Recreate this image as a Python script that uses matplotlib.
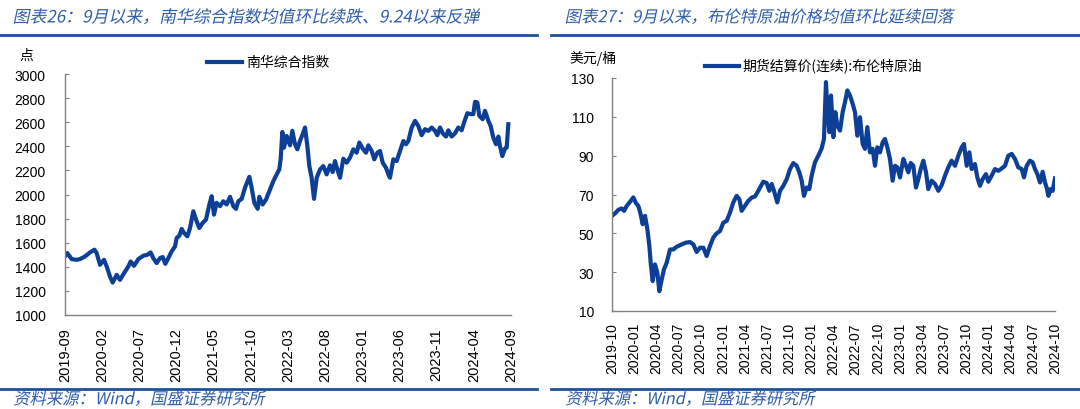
import matplotlib
matplotlib.use("Agg")
import numpy as np
from matplotlib import pyplot as plt
from matplotlib.textpath import TextPath
from matplotlib.patches import PathPatch
from matplotlib.font_manager import FontProperties
from matplotlib.transforms import Affine2D
import matplotlib.lines as mlines

plt.rcParams['font.family'] = ['Liberation Sans', 'Noto Sans CJK SC', 'DejaVu Sans']

# ---- data: 南华综合指数 (months since 2019-09) ----
nh_month = [0.00, 0.31, 0.90, 1.57, 2.02, 2.69, 3.36, 3.95, 4.26, 4.71, 5.25, 5.61, 6.05, 6.41,
            6.95, 7.40, 7.94, 8.52, 8.83, 9.28, 9.87, 10.54, 11.08, 11.52, 11.88, 12.33, 12.78,
            13.14, 13.50, 13.90, 14.35, 14.80, 15.02, 15.38, 15.70, 16.01, 16.46, 16.82, 17.26,
            17.71, 18.07, 18.52, 18.97, 19.42, 19.73, 20.04, 20.40, 20.85, 21.30, 21.75, 22.20,
            22.65, 23.00, 23.32, 23.77, 24.21, 24.80, 25.11, 25.47, 25.92, 26.14, 26.59, 27.04,
            27.49, 28.03, 28.48, 28.83, 29.01, 29.24, 29.46, 29.82, 30.27, 30.58, 30.94, 31.26,
            31.61, 31.97, 32.29, 32.60, 32.87, 33.18, 33.50, 33.86, 34.31, 34.75, 35.20, 35.65,
            36.01, 36.32, 36.64, 37.00, 37.44, 37.89, 38.34, 38.79, 39.24, 39.60, 40.05, 40.49,
            40.81, 41.26, 41.61, 42.02, 42.38, 42.74, 43.18, 43.50, 43.72, 44.17, 44.62, 45.07,
            45.52, 45.88, 46.19, 46.64, 47.09, 47.53, 47.98, 48.43, 48.88, 49.33, 49.78, 50.09,
            50.45, 50.81, 51.26, 51.57, 52.02, 52.47, 52.91, 53.36, 53.68, 54.13, 54.57, 54.93,
            55.16, 55.47, 55.74, 56.19, 56.50, 56.95, 57.26, 57.62, 57.98, 58.30, 58.52, 58.83,
            59.19, 59.42, 59.64]
nh_value = [1486, 1514, 1464, 1458, 1464, 1486, 1519, 1542, 1514, 1417, 1458, 1403, 1319, 1269,
            1333, 1292, 1347, 1403, 1444, 1408, 1464, 1492, 1500, 1519, 1472, 1431, 1472,
            1481, 1425, 1472, 1528, 1569, 1639, 1658, 1714, 1681, 1653, 1722, 1861,
            1778, 1722, 1764, 1792, 1917, 1986, 1833, 1931, 1903, 1944, 1917, 1981,
            1903, 1881, 1944, 1964, 2056, 2147, 2056, 1931, 1881, 1981, 1917, 1958,
            2028, 2111, 2167, 2208, 2292, 2519, 2389, 2486, 2408, 2528, 2417, 2375,
            2444, 2500, 2556, 2403, 2236, 2139, 1964, 2139, 2208, 2236, 2167, 2242,
            2186, 2278, 2208, 2139, 2297, 2264, 2306, 2375, 2347, 2431, 2381, 2347,
            2408, 2361, 2292, 2347, 2361, 2264, 2222, 2167, 2139, 2292, 2278, 2361,
            2444, 2417, 2444, 2556, 2611, 2569, 2492, 2542, 2528, 2556, 2528, 2492,
            2556, 2508, 2481, 2533, 2481, 2508, 2556, 2533, 2597, 2675, 2667, 2667,
            2769, 2764, 2653, 2625, 2694, 2611, 2569, 2472, 2417, 2481, 2403, 2319,
            2381, 2389, 2583]
nh_ticks = ['2019-09', '2020-02', '2020-07', '2020-12', '2021-05', '2021-10', '2022-03',
            '2022-08', '2023-01', '2023-06', '2023-11', '2024-04', '2024-09']

# ---- data: 布伦特原油期货结算价 (months since 2019-10) ----
br_month = [0.00, 0.41, 0.86, 1.31, 1.63, 1.99, 2.44, 2.89, 3.25, 3.57, 3.88, 4.15, 4.47, 4.79,
            5.06, 5.24, 5.51, 5.82, 6.14, 6.41, 6.73, 7.04, 7.40, 7.86, 8.31, 8.76, 9.44,
            10.02, 10.56, 11.02, 11.47, 11.92, 12.37, 12.82, 13.27, 13.72, 14.18, 14.63, 15.08,
            15.53, 15.98, 16.43, 16.88, 17.25, 17.56, 18.01, 18.46, 18.92, 19.37, 19.68, 20.05,
            20.50, 20.95, 21.31, 21.63, 21.94, 22.39, 22.75, 23.21, 23.66, 24.11, 24.56, 25.01,
            25.37, 25.69, 26.00, 26.37, 26.73, 27.04, 27.49, 27.95, 28.40, 28.71, 28.98, 29.16,
            29.44, 29.66, 29.98, 30.25, 30.52, 30.88, 31.24, 31.56, 31.87, 32.23, 32.60, 32.91,
            33.23, 33.59, 33.95, 34.27, 34.58, 34.94, 35.30, 35.62, 35.94, 36.30, 36.66, 36.97,
            37.29, 37.65, 38.01, 38.33, 38.65, 39.01, 39.46, 39.82, 40.13, 40.45, 40.81, 41.17,
            41.49, 41.81, 42.17, 42.53, 42.84, 43.30, 43.75, 44.20, 44.65, 45.10, 45.55, 46.00,
            46.46, 46.91, 47.36, 47.67, 48.04, 48.40, 48.71, 49.16, 49.48, 49.84, 50.20, 50.65,
            50.97, 51.42, 51.87, 52.32, 52.78, 53.23, 53.68, 54.13, 54.58, 55.03, 55.49, 55.80,
            56.16, 56.61, 56.97, 57.29, 57.61, 57.97, 58.33, 58.64, 58.87, 59.10, 59.41, 59.68,
            60.00]
br_value = [59.0, 60.3, 62.1, 62.8, 61.6, 64.1, 66.2, 68.5, 65.5, 64.1, 59.8, 54.7, 59.0, 52.1,
            43.5, 34.8, 25.4, 34.0, 29.7, 20.2, 26.2, 31.4, 34.8, 41.7, 41.7, 43.1, 44.3,
            45.2, 45.5, 44.3, 40.4, 42.6, 42.6, 38.3, 43.5, 47.8, 50.0, 51.2, 55.5,
            56.4, 60.7, 65.9, 69.3, 67.6, 61.6, 64.1, 66.7, 68.4, 69.0, 71.0, 73.6,
            76.6, 75.9, 71.9, 75.4, 71.9, 65.9, 71.9, 74.5, 77.9, 83.1, 86.2, 84.8,
            81.4, 77.1, 69.3, 73.6, 72.8, 79.7, 86.6, 90.0, 93.8, 98.6, 127.9, 114.1,
            102.1, 121.0, 99.5, 112.4, 105.5, 102.9, 112.4, 117.6, 123.6, 121.0, 116.7, 112.4,
            100.3, 109.8, 96.0, 93.5, 104.7, 91.7, 93.5, 84.8, 94.3, 91.7, 96.9, 98.6,
            94.3, 88.3, 77.1, 84.8, 84.0, 78.8, 88.3, 84.8, 81.4, 86.2, 84.8, 73.6,
            77.9, 83.1, 87.4, 81.4, 72.8, 77.1, 75.4, 71.9, 74.8, 79.7, 84.0, 87.4,
            84.8, 90.0, 94.3, 96.0, 84.8, 91.7, 83.1, 85.7, 78.8, 74.5, 77.9, 80.5,
            76.6, 79.7, 83.1, 82.2, 83.4, 84.8, 90.0, 90.9, 88.3, 84.0, 83.1, 78.8,
            84.8, 87.4, 86.6, 83.1, 80.5, 76.2, 81.7, 76.2, 73.6, 69.3, 72.8, 71.9,
            78.3]
br_ticks = ['2019-10', '2020-01', '2020-04', '2020-07', '2020-10', '2021-01', '2021-04',
            '2021-07', '2021-10', '2022-01', '2022-04', '2022-07', '2022-10', '2023-01',
            '2023-04', '2023-07', '2023-10', '2024-01', '2024-04', '2024-07', '2024-10']

W, H = 1080, 410
LINE_C = '#0C3F95'
TEXT_C = '#2F5DA8'
RULE_C = '#1E4F9E'
AXIS_C = '#808080'
CJK = FontProperties(family=['Noto Sans CJK SC'])

fig = plt.figure(figsize=(W / 100, H / 100), dpi=100)


def px(x, y):
    return x / W, 1 - y / H


def slanted(s, x0, x1, yc, color=TEXT_C):
    # fake italic text fitted between x0 and x1 (pixels)
    tp = TextPath((0, 0), s, size=20, prop=CJK)
    ext = tp.get_extents()
    k = (x1 - x0) / (ext.width + 0.21 * ext.height)
    tr = (Affine2D().translate(-ext.x0, 0).skew_deg(12, 0).scale(k)
          .translate(x0, H - yc - 0.38 * 20 * k)
          .scale(1 / W, 1 / H) + fig.transFigure)
    fig.add_artist(PathPatch(tp, transform=tr, facecolor=color, edgecolor='none'))


def rule(x0, x1, y):
    fig.add_artist(mlines.Line2D([x0 / W, x1 / W], [1 - y / H] * 2, color=RULE_C, lw=2.0,
                                 transform=fig.transFigure))


def panel(rect, xs, ys, ylim, yticks, ticklabels, step, ylpad, xlpad, xfs):
    ax = fig.add_axes(rect)
    ax.plot(xs, ys, color=LINE_C, lw=3.0, solid_joinstyle='round')
    ax.set_xlim(0, 60)
    ax.set_ylim(*ylim)
    ax.set_yticks(yticks)
    ax.set_xticks(np.arange(0, 61, step))
    ax.set_xticklabels(ticklabels, rotation=90, fontsize=xfs)
    for s in ['top', 'right']:
        ax.spines[s].set_visible(False)
    for s in ['left', 'bottom']:
        ax.spines[s].set_color(AXIS_C)
        ax.spines[s].set_linewidth(1.0)
    ax.tick_params(axis='y', direction='in', length=3, color=AXIS_C, labelsize=10, pad=ylpad)
    ax.tick_params(axis='x', length=0, pad=xlpad)
    return ax


# ---- left panel ----
slanted('图表26：9月以来，南华综合指数均值环比续跌、9.24以来反弹', 14, 482, 17)
rule(0, 537, 36)
fig.text(*px(19, 56), '点', fontsize=10, va='center', ha='left', family=['Noto Sans CJK SC'])
axl = panel([65 / W, 1 - 316 / H, (511 - 65) / W, (316 - 75) / H], nh_month, nh_value,
            (1000, 3000), np.arange(1000, 3001, 200), nh_ticks, 5, 14, 9, 10.5)
fig.add_artist(mlines.Line2D([207 / W, 242 / W], [1 - 63 / H] * 2, color=LINE_C, lw=3,
                             transform=fig.transFigure))
fig.text(*px(246, 63), '南华综合指数', fontsize=10, va='center', ha='left',
         family=['Noto Sans CJK SC'])
rule(0, 537, 390)
slanted('资料来源：Wind，国盛证券研究所', 14, 267, 399)

# ---- right panel ----
slanted('图表27：9月以来，布伦特原油价格均值环比延续回落', 566, 956, 17)
rule(551, 1080, 36)
fig.text(*px(569, 58), '美元/桶', fontsize=10, va='center', ha='left',
         family=['Noto Sans CJK SC'])
axr = panel([612 / W, 1 - 312 / H, (1055 - 612) / W, (312 - 79) / H], br_month, br_value,
            (10, 130), np.arange(10, 131, 20), br_ticks, 3, 13, 8, 10)
fig.add_artist(mlines.Line2D([705 / W, 739 / W], [1 - 67 / H] * 2, color=LINE_C, lw=3,
                             transform=fig.transFigure))
fig.text(*px(742, 66), '期货结算价(连续):布伦特原油', fontsize=10, va='center', ha='left',
         family=['Noto Sans CJK SC'])
rule(551, 1080, 390)
slanted('资料来源：Wind，国盛证券研究所', 566, 817, 399)

plt.savefig('out.png', dpi=100)
